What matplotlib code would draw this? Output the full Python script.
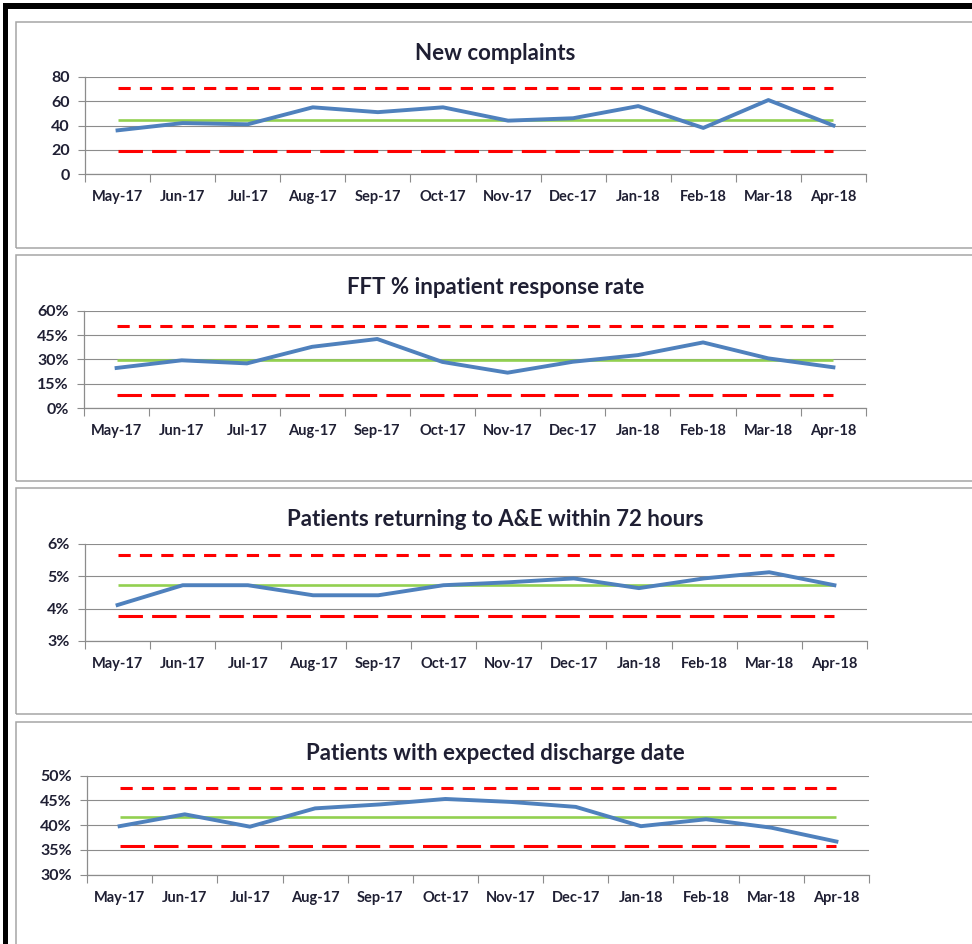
import matplotlib.pyplot as plt
from matplotlib.patches import Rectangle
import numpy as np

# monthly values, May-17 to Apr-18
months = ['May-17', 'Jun-17', 'Jul-17', 'Aug-17', 'Sep-17', 'Oct-17',
          'Nov-17', 'Dec-17', 'Jan-18', 'Feb-18', 'Mar-18', 'Apr-18']

complaints = [36, 42, 41, 55, 51, 55, 44, 46, 56, 38, 61, 40]
complaints_limits = [44.3, 71, 19]  # mean, upper, lower

fft_rate = [24.8, 29.5, 27.6, 37.8, 42.6, 28.5, 21.9, 28.6, 32.7, 40.5, 30.7, 25.2]
fft_limits = [29.5, 50.4, 8.0]

ae_return = [4.11, 4.72, 4.72, 4.41, 4.41, 4.72, 4.81, 4.93, 4.63, 4.93, 5.12, 4.72]
ae_limits = [4.72, 5.66, 3.76]

discharge = [39.8, 42.2, 39.7, 43.4, 44.2, 45.3, 44.7, 43.7, 39.8, 41.2, 39.5, 36.7]
discharge_limits = [41.65, 47.5, 35.7]

W, H = 972, 944
fig = plt.figure(figsize=(W / 100, H / 100), dpi=100)
plt.rcParams['font.family'] = ['Lato', 'DejaVu Sans']

txt_col = '#1f1f33'
grid_col = '#8c8c8c'


def fig_rect(x0, y0, x1, y1, **kw):
    # rectangle given in pixel coords from the top-left corner
    r = Rectangle((x0 / W, 1 - y1 / H), (x1 - x0) / W, (y1 - y0) / H,
                  transform=fig.transFigure, **kw)
    fig.patches.append(r)


# black frame on top and left
fig_rect(3, 3, W + 5, 9, facecolor='black', edgecolor='none')
fig_rect(3, 3, 8, H + 5, facecolor='black', edgecolor='none')


def panel(box, ax_px, title, title_y, values, limits, yticks, fmt):
    x0, y0, x1, y1 = box
    fig_rect(x0, y0, x1, y1, facecolor='none', edgecolor='#a6a6a6', linewidth=1.1)

    left, top, right, bottom = ax_px
    ax = fig.add_axes([left / W, 1 - bottom / H, (right - left) / W, (bottom - top) / H])
    x = np.arange(len(months)) + 0.5
    mean, ucl, lcl = limits
    n = len(months)

    ax.plot(x, [ucl] * n, color='#ff0000', lw=2.2, dashes=(4, 3), zorder=3)
    ax.plot(x, [lcl] * n, color='#ff0000', lw=2.2, dashes=(8, 3), zorder=3)
    ax.plot(x, [mean] * n, color='#92d050', lw=1.9, zorder=4, solid_capstyle='butt')
    ax.plot(x, values, color='#4f81bd', lw=2.8, zorder=5, solid_joinstyle='round')

    ax.set_xlim(0, n)
    ax.set_ylim(yticks[0], yticks[-1])
    ax.set_yticks(yticks)
    ax.set_yticklabels([fmt(v) for v in yticks])
    ax.yaxis.grid(True, color=grid_col, lw=0.8)
    ax.set_axisbelow(True)

    # tick marks between categories, labels in the middle
    ax.set_xticks(np.arange(n + 1))
    ax.set_xticklabels([])
    ax.set_xticks(x, minor=True)
    ax.set_xticklabels(months, minor=True)
    ax.tick_params(axis='x', which='major', length=5.5, width=0.8, color=grid_col, direction='out')
    ax.tick_params(axis='x', which='minor', length=0, pad=11.5, labelsize=10.5,
                   labelcolor=txt_col)
    ax.tick_params(axis='y', length=5, width=0.8, color=grid_col, pad=6,
                   labelsize=11.5, labelcolor=txt_col)
    for lab in ax.get_xticklabels(minor=True) + ax.get_yticklabels():
        lab.set_fontweight('bold')

    for s in ['top', 'right']:
        ax.spines[s].set_visible(False)
    for s in ['left', 'bottom']:
        ax.spines[s].set_color(grid_col)
        ax.spines[s].set_linewidth(0.9)

    fig.text((x0 + 975) / 2 / W, 1 - title_y / H, title, ha='center', va='center',
             fontsize=16, fontweight='bold', color=txt_col)
    return ax


panel((16, 22, 980, 248), (85, 77, 866, 174), 'New complaints', 53,
      complaints, complaints_limits, [0, 20, 40, 60, 80], lambda v: '%d' % v)
panel((16, 255, 980, 481), (84, 310.7, 866, 408.3), 'FFT % inpatient response rate', 287,
      fft_rate, fft_limits, [0, 15, 30, 45, 60], lambda v: '%d%%' % v)
panel((16, 488, 980, 714), (85, 543.7, 867, 641), 'Patients returning to A&E within 72 hours', 520,
      ae_return, ae_limits, [3, 4, 5, 6], lambda v: '%d%%' % v)
panel((16, 722, 980, 960), (87, 775.7, 869, 874.7), 'Patients with expected discharge date', 753,
      discharge, discharge_limits, [30, 35, 40, 45, 50], lambda v: '%d%%' % v)

fig.savefig('out.png', dpi=100, facecolor='white')
